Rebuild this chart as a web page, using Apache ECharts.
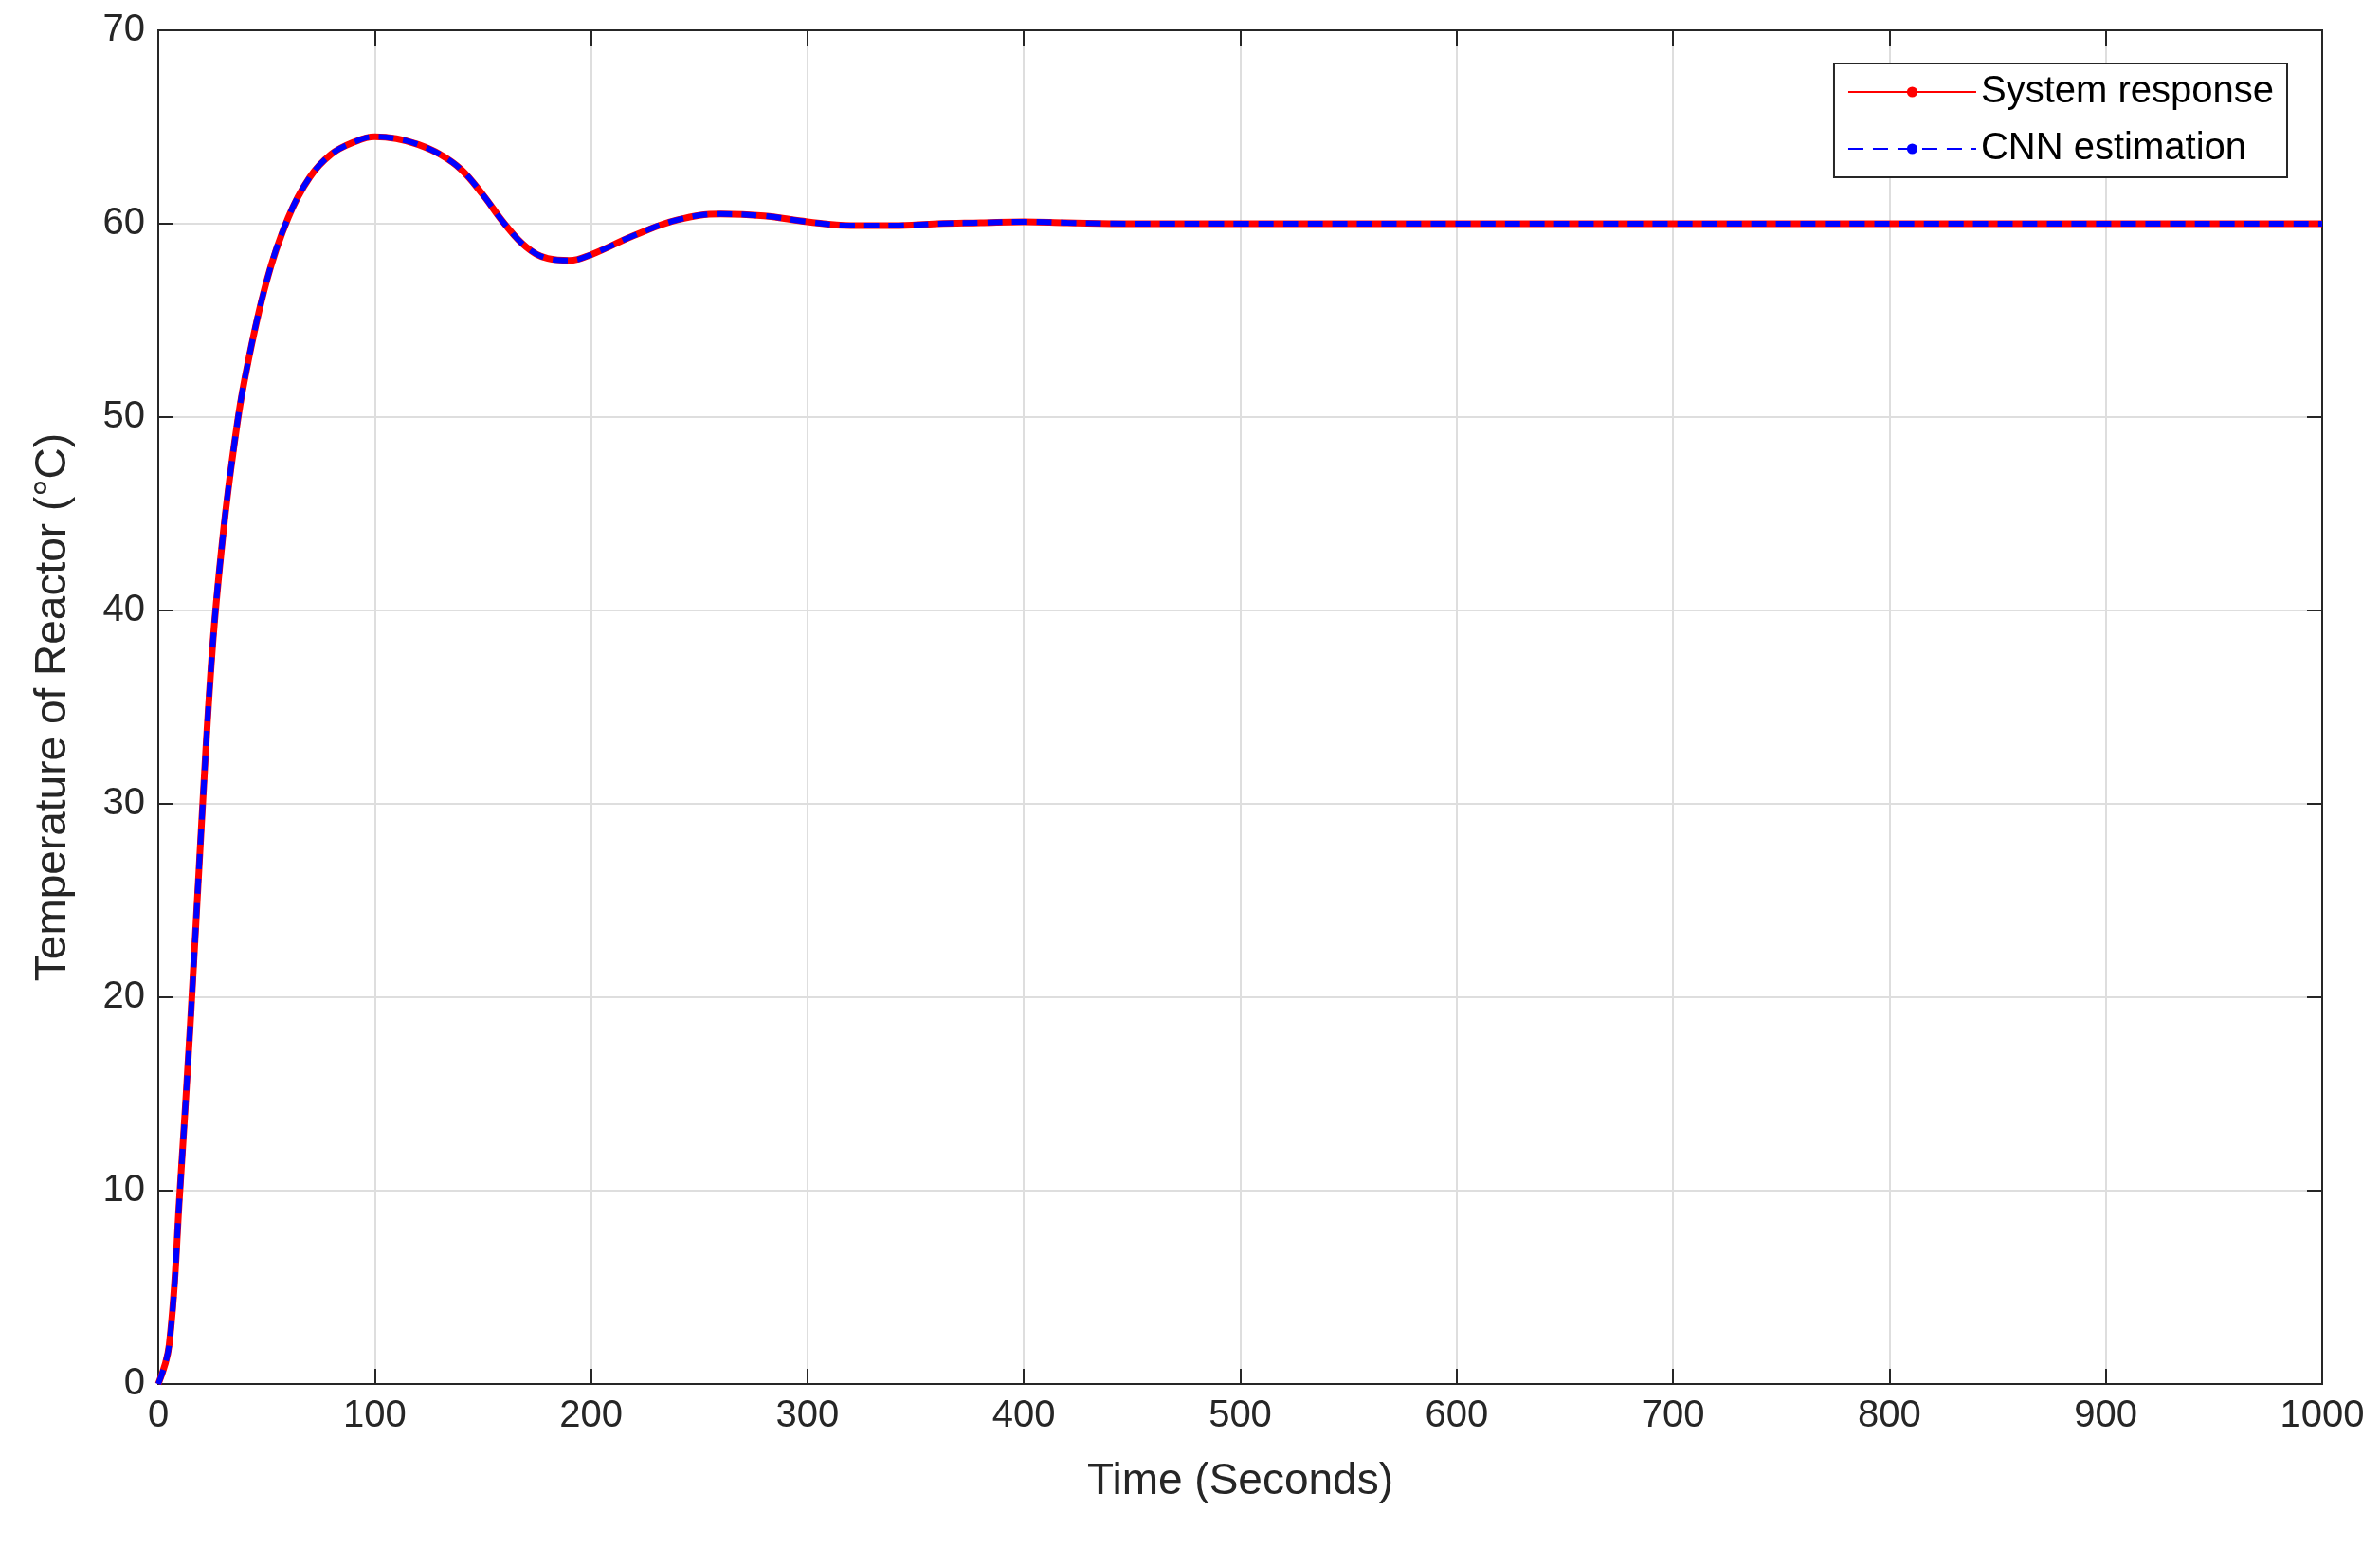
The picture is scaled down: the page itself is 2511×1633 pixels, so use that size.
<!DOCTYPE html>
<html>
<head>
<meta charset="utf-8">
<script src="https://cdn.jsdelivr.net/npm/echarts@6/dist/echarts.min.js"></script>
</head>
<body style="margin:0;background:#fff">
<div id="main" style="width:2511px;height:1633px"></div>
<script>
var timeSec = [0, 5, 10, 15, 20, 25, 30, 35, 40, 50, 60, 70, 80, 90, 100, 110, 120, 130, 140, 150, 160, 170, 180, 190, 200, 220, 240, 260, 280, 300, 320, 340, 360, 380, 400, 420, 450, 500, 600, 700, 800, 900, 1000];
var systemResp = [0, 2, 10, 19, 29, 38, 44, 48.5, 52, 57, 60.3, 62.4, 63.6, 64.2, 64.5, 64.4, 64.1, 63.6, 62.8, 61.5, 60, 58.8, 58.2, 58.1, 58.4, 59.4, 60.2, 60.5, 60.4, 60.1, 59.9, 59.9, 60.0, 60.05, 60.1, 60.05, 60, 60, 60, 60, 60, 60, 60];
var cnnEst = systemResp.slice();

function pairs(v) { return timeSec.map(function (t, i) { return [t, v[i]]; }); }

var chart = echarts.init(document.getElementById('main'));
var font = 'Liberation Sans';
function axis(extra) {
    return Object.assign({
        type: 'value',
        axisLine: { show: true, onZero: false, lineStyle: { color: '#262626', width: 2 } },
        axisTick: { show: true, inside: true, length: 16, lineStyle: { color: '#262626', width: 2 } },
        axisLabel: { color: '#262626', fontSize: 40, fontFamily: font, margin: 14, formatter: function (v) { return String(v); } },
        splitLine: { show: true, lineStyle: { color: '#dedede', width: 2 } },
        nameTextStyle: { color: '#262626', fontSize: 46, fontFamily: font },
        nameLocation: 'middle'
    }, extra);
}
chart.setOption({
    animation: false,
    grid: { left: 167, right: 61, top: 32, bottom: 173, show: true, borderColor: '#262626', borderWidth: 2 },
    legend: {
        right: 98, top: 67, orient: 'vertical', itemWidth: 135, itemHeight: 14, itemGap: 20,
        backgroundColor: '#fff', borderColor: '#262626', borderWidth: 2, padding: [10, 14, 10, 14],
        textStyle: { fontSize: 40, fontFamily: font, color: '#000' },
        data: ['System response', 'CNN estimation']
    },
    xAxis: [
        axis({ min: 0, max: 1000, interval: 100, name: 'Time (Seconds)', nameGap: 80 }),
        axis({ min: 0, max: 1000, interval: 100, position: 'top', axisLabel: { show: false }, splitLine: { show: false } })
    ],
    yAxis: [
        axis({ min: 0, max: 70, interval: 10, name: 'Temperature of Reactor (°C)', nameGap: 88 }),
        axis({ min: 0, max: 70, interval: 10, position: 'right', axisLabel: { show: false }, splitLine: { show: false } })
    ],
    series: [
        { name: 'System response', type: 'line', smooth: 0.4, showSymbol: false, symbol: 'none', data: pairs(systemResp),
          itemStyle: { color: '#ff0000' }, lineStyle: { color: '#ff0000', width: 7 } },
        { name: 'CNN estimation', type: 'line', smooth: 0.4, showSymbol: false, symbol: 'none', data: pairs(cnnEst),
          itemStyle: { color: '#0000ff' }, lineStyle: { color: '#0000ff', width: 6, type: [16, 10] } }
    ]
});
</script>
</body>
</html>
